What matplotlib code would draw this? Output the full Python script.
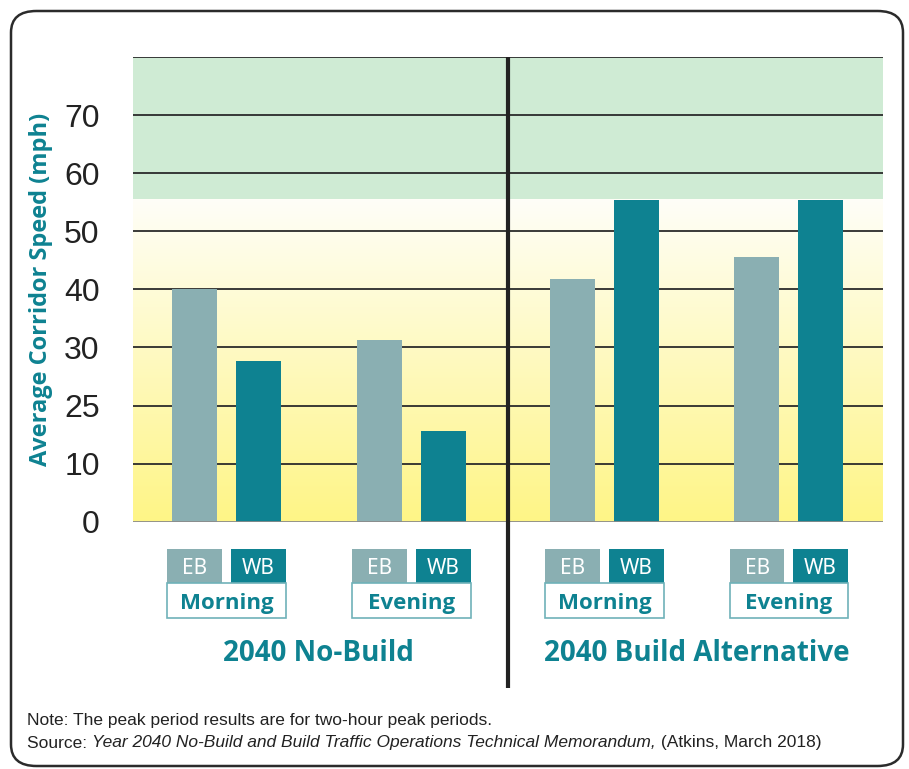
import numpy as np
import matplotlib
matplotlib.use("Agg")
import matplotlib.pyplot as plt
from matplotlib.patches import Rectangle, FancyBboxPatch
from matplotlib import font_manager

# data
scenarios = ["2040 No-Build", "2040 Build Alternative"]
periods = ["Morning", "Evening", "Morning", "Evening"]
eb_speed = [40.0, 31.3, 41.8, 45.6]
wb_speed = [27.7, 15.6, 55.4, 55.4]
free_flow_speed = 55.6
tick_values = [0, 10, 20, 30, 40, 50, 60, 70]
tick_labels = ["0", "10", "25", "30", "40", "50", "60", "70"]
y_label = "Average Corridor Speed (mph)"
note_text = "Note: The peak period results are for two-hour peak periods."
source_title = "Year 2040 No-Build and Build Traffic Operations Technical Memorandum,"
source_tail = " (Atkins, March 2018)"

TEAL = "#0E8291"
GREY_TEAL = "#8AAFB2"
GREEN = "#CFEBD4"
INK = "#222222"

# pick a humanist sans that really has a bold face
bold_fams = {f.name for f in font_manager.fontManager.ttflist
             if (f.weight if isinstance(f.weight, int) else 400) >= 600
             or str(f.weight) in ("bold", "semibold", "demibold")}
BOLD = next((f for f in ["Open Sans", "Noto Sans", "Lato", "Roboto", "DejaVu Sans"]
             if f in bold_fams), "DejaVu Sans")
REG = "Noto Sans"

plt.rcParams["font.family"] = [REG, "DejaVu Sans"]

W, H = 909, 769
fig = plt.figure(figsize=(W / 100, H / 100), dpi=100)
ax = fig.add_axes([133 / W, 1 - 521.7 / H, 750 / W, 464.7 / H])

# group centres, with a little extra room around the divider
centers = np.array([0.0, 1.0, 2.043, 3.04])
offset = 0.173
bar_w = 0.243
x_min, x_max = -0.505, 3.549
divider_x = 1.52
y_max = 80

# background: green band above free flow, yellow gradient below
ax.add_patch(Rectangle((x_min, free_flow_speed), x_max - x_min, y_max - free_flow_speed,
                       facecolor=GREEN, edgecolor="none", zorder=0))
top_c = np.array([255, 254, 248]) / 255
bot_c = np.array([254, 245, 134]) / 255
t = np.linspace(0, 1, 256)[:, None]
grad = (top_c * (1 - t) + bot_c * t)[:, None, :]
ax.imshow(grad, extent=[x_min, x_max, 0, free_flow_speed], aspect="auto",
          interpolation="bilinear", zorder=0)

# gridlines
for v in tick_values[1:] + [y_max]:
    ax.axhline(v, color="#2b2b2b", lw=1.3, zorder=1)
ax.axhline(0, color="#8a8a8a", lw=2, zorder=3)

ax.bar(centers - offset, eb_speed, width=bar_w, color=GREY_TEAL, zorder=2)
ax.bar(centers + offset, wb_speed, width=bar_w, color=TEAL, zorder=2)

ax.set_xlim(x_min, x_max)
ax.set_ylim(0, y_max)
ax.set_xticks([])
ax.set_yticks(tick_values)
ax.set_yticklabels(tick_labels, fontsize=23, color=INK, family="Liberation Sans")
ax.tick_params(axis="y", length=0, pad=24)
for lab in ax.get_yticklabels():
    lab.set_va("center_baseline")
for s in ax.spines.values():
    s.set_visible(False)
ax.set_ylabel(y_label, fontsize=17, fontweight="bold", color=TEAL, family=BOLD)
ax.yaxis.set_label_coords(-0.106, 0.5)

# divider between scenarios
trans = ax.get_xaxis_transform()
ax.plot([divider_x, divider_x], [1.0, -0.358], transform=trans, color=INK,
        lw=3, clip_on=False, zorder=5, solid_capstyle="butt")

# category boxes under the bars
y0, y1, y2 = -0.2076, -0.1323, -0.0587
for c, period in zip(centers, periods):
    ax.add_patch(Rectangle((c - 0.319, y1), 0.295, y2 - y1, transform=trans,
                           facecolor=GREY_TEAL, edgecolor="none", clip_on=False))
    ax.add_patch(Rectangle((c + 0.024, y1), 0.296, y2 - y1, transform=trans,
                           facecolor=TEAL, edgecolor="none", clip_on=False))
    ax.add_patch(Rectangle((c - 0.319, y0), 0.639, y1 - y0, transform=trans,
                           facecolor="white", edgecolor="#6FB2B9", lw=1.2, clip_on=False))
    ax.text(c - 0.171, (y1 + y2) / 2, "EB", transform=trans, ha="center",
            va="center_baseline", color="white", fontsize=15)
    ax.text(c + 0.172, (y1 + y2) / 2, "WB", transform=trans, ha="center",
            va="center_baseline", color="white", fontsize=15)
    ax.text(c, (y0 + y1) / 2, period, transform=trans, ha="center",
            va="center_baseline", color=TEAL, fontsize=16, fontweight="bold", family=BOLD)

for i, name in enumerate(scenarios):
    cx = (centers[2 * i] + centers[2 * i + 1]) / 2
    ax.text(cx, -0.276, name, transform=trans, ha="center", va="center_baseline",
            color=TEAL, fontsize=20, fontweight="bold", family=BOLD)

# notes, sized so the source line spans the same width as the reference
r = fig.canvas.get_renderer()
fs = 12
x_note = 27
parts = [("Source: ", "normal"), (source_title, "italic"), (source_tail, "normal")]
total = 0
for s, st in parts:
    tt = fig.text(0, 0, s, fontsize=fs, style=st, family="Liberation Sans")
    total += tt.get_window_extent(r).width
    tt.remove()
fs = fs * 795 / total

fig.text(x_note / W, 1 - 720 / H, note_text, fontsize=fs, color=INK, va="center",
         family="Liberation Sans")
x = x_note
for s, st in parts:
    tt = fig.text(x / W, 1 - 743 / H, s, fontsize=fs, style=st, color=INK,
                  va="center", family="Liberation Sans")
    x += tt.get_window_extent(r).width

# rounded frame
frame = FancyBboxPatch((11 / W, 3 / H), 892 / W, 755 / H,
                       boxstyle="round,pad=0,rounding_size=0.028",
                       transform=fig.transFigure, facecolor="none",
                       edgecolor="#2b2b2b", lw=1.8)
fig.patches.append(frame)

fig.savefig("out.png", dpi=100)
